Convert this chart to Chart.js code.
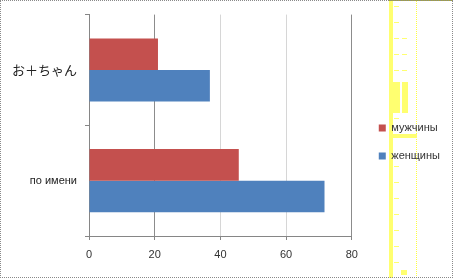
<!DOCTYPE html>
<html>
<head>
<meta charset="utf-8">
<script src="https://cdn.jsdelivr.net/npm/chart.js@4/dist/chart.umd.min.js"></script>
<style>
body { margin: 0; background: #fff; }
#wrap { position: relative; width: 453px; height: 278px; overflow: hidden; }
#wrap canvas { position: absolute; left: 0; top: 0; z-index: 1; }
/* yellow marker strip on the right */
.hl { position: absolute; z-index: 0; background: #ffff70; }
.frame { position: absolute; left: 0; top: 0; width: 453px; height: 278px; box-sizing: border-box;
         border: 1px dotted #8a8a8a; z-index: 2; pointer-events: none; }
</style>
</head>
<body>
<div id="wrap">
  <div class="hl" style="left:389px;top:0;width:4px;height:278px;"></div>
  <div class="hl" style="left:389px;top:0;width:64px;height:1px;background:#a8a830;"></div>
  <div class="hl" style="left:416px;top:0;width:0;height:278px;background:none;border-left:1px dotted #ffff40;"></div>
  <div class="hl" style="left:394px;top:6px;width:5px;height:112px;background:repeating-linear-gradient(to bottom,#ffff70 0 1px,transparent 1px 16px);"></div>
  <div class="hl" style="left:402px;top:38px;width:5px;height:40px;background:repeating-linear-gradient(to bottom,#ffff70 0 1px,transparent 1px 16px);"></div>
  <div class="hl" style="left:393px;top:82px;width:7px;height:31px;"></div>
  <div class="hl" style="left:402px;top:82px;width:6px;height:31px;"></div>
  <div class="hl" style="left:394px;top:118px;width:5px;height:1px;"></div>
  <div class="hl" style="left:389px;top:134px;width:28px;height:4px;"></div>
  <div class="hl" style="left:394px;top:166px;width:5px;height:100px;background:repeating-linear-gradient(to bottom,#ffff70 0 1px,transparent 1px 16px);"></div>
  <div class="hl" style="left:401px;top:270px;width:6px;height:5px;"></div>
  <canvas id="myBarChart"></canvas>
  <div class="frame"></div>
</div>
<script>
/******************* Address forms by gender ***********************/
const categories = ['お＋ちゃん', 'по имени'];
const menValues = [21, 45.6];
const womenValues = [36.8, 71.7];
const xTickValues = [0, 20, 40, 60, 80];

const RED = '#C4504E';
const BLUE = '#4F81BD';
const AXIS = '#868686';

// push the legend away from the plot, it sits further right than chart.js puts it
const legendShift = {
    id: 'legendShift',
    afterLayout(chart) {
        const legend = chart.legend;
        if (!legend) return;
        legend.left += 10;
        legend.top -= 4;
        legend.bottom -= 4;
    }
};

const data = {
    labels: categories,
    datasets: [
        {
            label: 'мужчины',
            data: menValues,
            backgroundColor: RED,
            borderWidth: 0
        },
        {
            label: 'женщины',
            data: womenValues,
            backgroundColor: BLUE,
            borderWidth: 0
        }
    ]
};

const config = {
    type: 'bar',
    data: data,
    plugins: [legendShift],
    options: {
        indexAxis: 'y',
        responsive: true,
        maintainAspectRatio: false,
        animation: false,
        categoryPercentage: 0.57,
        barPercentage: 1,
        layout: {
            padding: {top: 14, right: 13, bottom: 0, left: 0}
        },
        plugins: {
            tooltip: {enabled: false},
            legend: {
                display: true,
                position: 'right',
                labels: {
                    boxWidth: 7,
                    boxHeight: 7,
                    padding: 17,
                    color: '#333',
                    font: {family: 'Liberation Sans', size: 11}
                }
            }
        },
        scales: {
            x: {
                min: 0,
                max: 80,
                afterFit: (scale) => { scale.height = 42; },
                afterBuildTicks: (scale) => {
                    scale.ticks = xTickValues.map(v => ({value: v}));
                },
                border: {color: AXIS, width: 1},
                grid: {
                    color: (ctx) => (ctx.index === 2 || ctx.index === 3) ? '#d6d6d6' : '#8c8c8c',
                    tickColor: AXIS,
                    tickLength: 4,
                    drawOnChartArea: true
                },
                ticks: {
                    padding: 8,
                    color: '#333',
                    font: {family: 'Liberation Sans', size: 11}
                }
            },
            y: {
                afterFit: (scale) => { scale.width = 89; },
                border: {color: AXIS, width: 1},
                grid: {
                    drawOnChartArea: false,
                    tickColor: AXIS,
                    tickLength: 4
                },
                ticks: {
                    padding: 8,
                    color: '#222',
                    font: (ctx) => ctx.index === 0
                        ? {family: 'Noto Sans CJK JP', size: 13}
                        : {family: 'Liberation Sans', size: 11}
                }
            }
        }
    }
};

const myBarChart = new Chart(
    document.getElementById('myBarChart'),
    config
);
</script>
</body>
</html>
